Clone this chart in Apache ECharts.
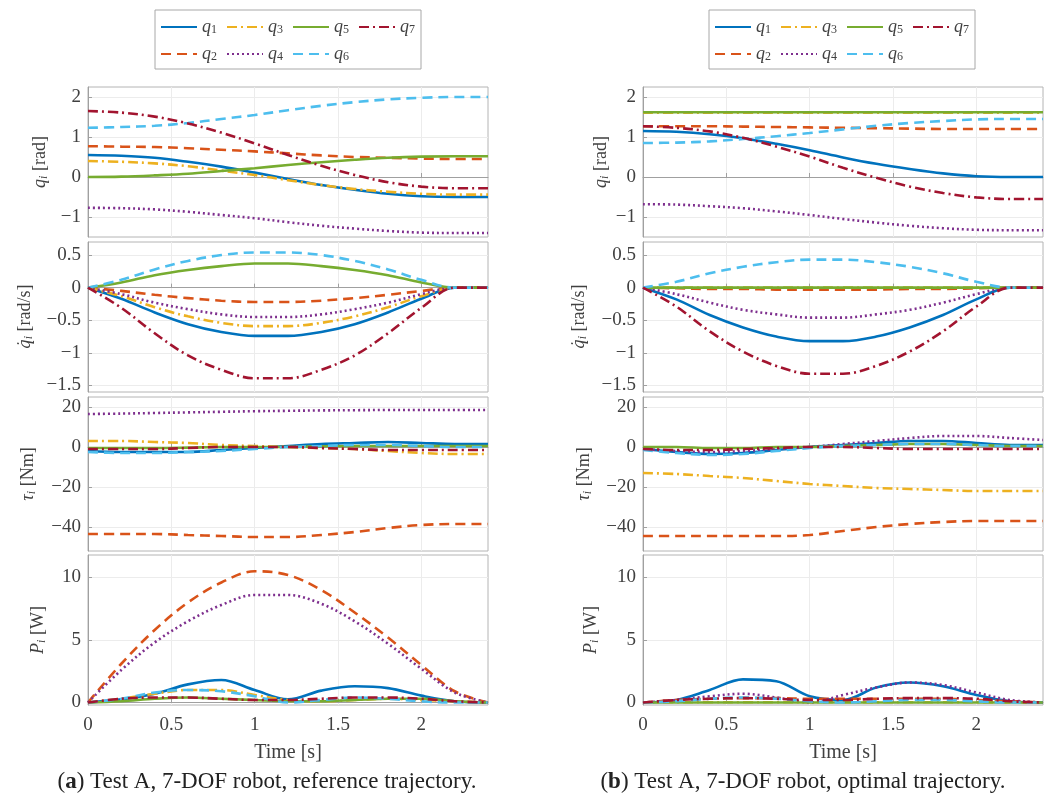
<!DOCTYPE html>
<html>
<head>
    <meta charset="utf-8">
    <script src="https://cdn.jsdelivr.net/npm/echarts@6/dist/echarts.min.js"></script>
    <style>
        html, body { margin: 0; background: #fff; }
        #main { width: 1052px; height: 808px; }
    </style>
</head>
<body>
<div id="main"></div>
<script type="text/javascript">
    // time axis [s]
    var time = [0, 0.2, 0.4, 0.6, 0.8, 1.0, 1.2, 1.4, 1.6, 1.8, 2.0, 2.2, 2.4];
    var names = ['q1', 'q2', 'q3', 'q4', 'q5', 'q6', 'q7'];

    // (a) reference trajectory, rows q1..q7
    var posA = [
        [0.55, 0.53, 0.48, 0.38, 0.26, 0.11, -0.05, -0.2, -0.32, -0.42, -0.48, -0.5, -0.5],
        [0.77, 0.76, 0.75, 0.72, 0.68, 0.64, 0.59, 0.54, 0.5, 0.48, 0.46, 0.45, 0.45],
        [0.4, 0.38, 0.34, 0.27, 0.16, 0.05, -0.08, -0.2, -0.3, -0.37, -0.42, -0.44, -0.44],
        [-0.77, -0.78, -0.81, -0.87, -0.95, -1.03, -1.13, -1.22, -1.29, -1.35, -1.39, -1.4, -1.4],
        [0, 0.01, 0.04, 0.08, 0.15, 0.22, 0.3, 0.37, 0.43, 0.48, 0.51, 0.52, 0.52],
        [1.23, 1.25, 1.28, 1.35, 1.45, 1.55, 1.67, 1.78, 1.87, 1.94, 1.98, 2.0, 2.0],
        [1.65, 1.61, 1.51, 1.34, 1.11, 0.84, 0.55, 0.28, 0.05, -0.13, -0.24, -0.28, -0.28]
    ];
    var velA = [
        [0, -0.17, -0.38, -0.56, -0.68, -0.74, -0.74, -0.68, -0.56, -0.38, -0.17, 0, 0],
        [0, -0.05, -0.11, -0.16, -0.2, -0.22, -0.22, -0.2, -0.16, -0.11, -0.05, 0, 0],
        [0, -0.13, -0.3, -0.44, -0.54, -0.59, -0.59, -0.54, -0.44, -0.3, -0.13, 0, 0],
        [0, -0.1, -0.23, -0.33, -0.41, -0.45, -0.45, -0.41, -0.33, -0.23, -0.1, 0, 0],
        [0, 0.08, 0.19, 0.27, 0.33, 0.37, 0.37, 0.33, 0.27, 0.19, 0.08, 0, 0],
        [0, 0.12, 0.28, 0.41, 0.5, 0.54, 0.54, 0.5, 0.41, 0.28, 0.12, 0, 0],
        [0, -0.31, -0.7, -1.04, -1.26, -1.39, -1.39, -1.26, -1.04, -0.7, -0.31, 0, 0]
    ];
    var torA = [
        [-2, -2.5, -2.5, -2.5, -1.5, -0.5, 0.5, 1.5, 2, 2.5, 2, 1.5, 1.5],
        [-43.5, -43.5, -43.5, -44, -44.5, -45, -45, -44, -42.5, -40.5, -39, -38.5, -38.5],
        [3, 3, 2.5, 2, 1, 0.5, 0, -0.5, -1, -2, -3, -3.5, -3.5],
        [16.5, 16.7, 17, 17.3, 17.6, 17.9, 18.1, 18.3, 18.4, 18.5, 18.5, 18.5, 18.5],
        [-0.5, -0.5, -0.5, -0.3, 0, 0, 0, 0.3, 0.5, 0.5, 0.5, 0.5, 0.5],
        [-2.5, -3, -3, -2.5, -2, -1, 0, 0.5, 1, 1, 0.5, 0, 0],
        [-1, -1, -1, -0.5, 0, 0, 0, -0.5, -1, -1.5, -1.5, -1.5, -1.5]
    ];
    var powA = [
        [0, 0.25, 0.7, 1.45, 1.8, 1.0, 0.25, 0.95, 1.3, 1.15, 0.55, 0.1, 0],
        [0, 3.1, 5.8, 8.0, 9.6, 10.5, 10.2, 9.0, 7.2, 5.2, 3.0, 0.9, 0],
        [0, 0.3, 0.7, 1.0, 1.0, 0.6, 0.2, 0.1, 0.2, 0.3, 0.2, 0.1, 0],
        [0, 2.6, 4.8, 6.5, 7.8, 8.6, 8.6, 7.9, 6.5, 4.7, 2.7, 0.8, 0],
        [0, 0.1, 0.3, 0.4, 0.3, 0.2, 0.1, 0.1, 0.2, 0.3, 0.3, 0.1, 0],
        [0, 0.3, 0.8, 1.0, 0.9, 0.5, 0, 0.2, 0.4, 0.3, 0.1, 0, 0],
        [0, 0.3, 0.4, 0.4, 0.3, 0.2, 0.2, 0.3, 0.4, 0.4, 0.3, 0.1, 0]
    ];

    // (b) optimal trajectory
    var posB = [
        [1.15, 1.13, 1.07, 0.97, 0.83, 0.67, 0.49, 0.33, 0.2, 0.09, 0.02, 0, 0],
        [1.27, 1.27, 1.27, 1.26, 1.25, 1.24, 1.23, 1.22, 1.21, 1.2, 1.2, 1.2, 1.2],
        [1.61, 1.61, 1.61, 1.61, 1.61, 1.61, 1.61, 1.61, 1.61, 1.61, 1.61, 1.61, 1.61],
        [-0.68, -0.69, -0.73, -0.78, -0.86, -0.95, -1.05, -1.14, -1.22, -1.28, -1.32, -1.33, -1.33],
        [1.62, 1.62, 1.62, 1.62, 1.62, 1.62, 1.62, 1.62, 1.62, 1.62, 1.62, 1.62, 1.62],
        [0.85, 0.86, 0.89, 0.95, 1.02, 1.1, 1.19, 1.28, 1.35, 1.4, 1.44, 1.45, 1.45],
        [1.27, 1.23, 1.14, 0.98, 0.76, 0.51, 0.23, -0.02, -0.24, -0.4, -0.51, -0.55, -0.55]
    ];
    var velB = [
        [0, -0.18, -0.42, -0.61, -0.75, -0.82, -0.82, -0.75, -0.61, -0.42, -0.18, 0, 0],
        [0, -0.01, -0.02, -0.02, -0.03, -0.03, -0.03, -0.03, -0.02, -0.02, -0.01, 0, 0],
        [0, 0, 0, 0, 0, 0, 0, 0, 0, 0, 0, 0, 0],
        [0, -0.1, -0.23, -0.34, -0.41, -0.46, -0.46, -0.41, -0.34, -0.23, -0.1, 0, 0],
        [0, 0, 0, 0, 0, 0, 0, 0, 0, 0, 0, 0, 0],
        [0, 0.09, 0.22, 0.32, 0.39, 0.43, 0.43, 0.39, 0.32, 0.22, 0.09, 0, 0],
        [0, -0.29, -0.67, -0.98, -1.2, -1.32, -1.32, -1.2, -0.98, -0.67, -0.29, 0, 0]
    ];
    var torB = [
        [-1, -2.5, -3.5, -3, -1.5, 0, 1, 2, 3, 3, 2, 1, 1],
        [-44.5, -44.5, -44.5, -44.5, -44.5, -44, -42, -40, -38.5, -37.5, -37, -37, -37],
        [-13, -13.5, -14.5, -15.5, -17, -18.5, -19.5, -20.5, -21, -21.5, -22, -22, -22],
        [-1, -2, -2.5, -2, -1, 0, 1.5, 3, 4.5, 5.5, 5.5, 4.5, 3.5],
        [0, 0, -0.5, -0.5, 0, 0, 0.5, 1, 1.5, 1.5, 1, 0.5, 0.5],
        [-1.5, -3, -4, -3.5, -2, -0.5, 0.5, 1, 1.5, 1.5, 1, 0.5, 0.5],
        [-1, -1.5, -1.5, -1, -0.5, 0, 0, -0.5, -1, -1, -1, -1, -1]
    ];
    var powB = [
        [0, 0.2, 1.0, 1.85, 1.7, 0.5, 0.2, 1.2, 1.6, 1.3, 0.6, 0.1, 0],
        [0, 0.2, 0.3, 0.35, 0.35, 0.3, 0.3, 0.3, 0.3, 0.3, 0.2, 0.1, 0],
        [0, 0.02, 0.02, 0.02, 0.02, 0.02, 0.02, 0.02, 0.02, 0.02, 0.02, 0, 0],
        [0, 0.2, 0.5, 0.7, 0.4, 0, 0.6, 1.2, 1.6, 1.4, 0.8, 0.2, 0],
        [0, 0, 0, 0, 0, 0, 0, 0, 0, 0, 0, 0, 0],
        [0, 0.1, 0.3, 0.4, 0.3, 0.1, 0, 0.1, 0.2, 0.2, 0.1, 0, 0],
        [0, 0.2, 0.3, 0.35, 0.3, 0.2, 0.2, 0.3, 0.35, 0.35, 0.3, 0.1, 0]
    ];

    // tick labels
    var xTicks = [0, 0.5, 1, 1.5, 2];
    var yTicks = [[-1, 0, 1, 2], [-1.5, -1, -0.5, 0, 0.5], [-40, -20, 0, 20], [0, 5, 10]];

    var colors = ['#0072BD', '#D95319', '#EDB120', '#7E2F8E', '#77AC30', '#4DBEEE', '#A2142F'];
    var dashes = ['solid', [10, 6], [10, 4, 2, 4], [2, 3], 'solid', [10, 6], [10, 4, 2, 4]];

    var panels = [[posA, velA, torA, powA], [posB, velB, torB, powB]];
    var plotLeft = [88, 643];
    var rowTop = [87, 242, 397, 555];
    var rowHeight = [150, 150, 154, 150];
    var yMin = [-1.5, -1.6, -52, -0.2];
    var yMax = [2.25, 0.7, 25, 11.8];
    var yNames = ['{i|q}{s|i} [rad]', '{d|q\u0307}{s|i} [rad/s]', '{i|\u03c4}{s|i} [Nm]', '{i|P}{s|i} [W]'];
    var yNameGap = [[38, 53, 50, 40], [32, 54, 49, 42]];

    var serif = 'Liberation Serif';
    var txtColor = '#404040';
    var richSub = {
        i: {fontFamily: serif, fontStyle: 'italic', fontSize: 18, color: txtColor},
        d: {fontFamily: 'DejaVu Serif', fontStyle: 'italic', fontSize: 16, color: txtColor},
        s: {fontFamily: serif, fontStyle: 'italic', fontSize: 12, color: txtColor, padding: [7, 0, 0, 0]}
    };

    function fmt(v) {
        return (v < 0 ? '\u2212' : '') + Math.abs(v);
    }

    var grids = [], xAxes = [], yAxes = [], series = [];
    for (var p = 0; p < 2; p++) {
        for (var r = 0; r < 4; r++) {
            var idx = p * 4 + r;
            grids.push({
                left: plotLeft[p], width: 400, top: rowTop[r], height: rowHeight[r],
                show: true, borderColor: '#b4b4b4', borderWidth: 1, backgroundColor: '#fff'
            });
            xAxes.push({
                type: 'value', gridIndex: idx, min: 0, max: 2.4,
                name: r === 3 ? 'Time [s]' : '',
                nameLocation: 'middle', nameGap: 38,
                nameTextStyle: {fontFamily: serif, fontSize: 20, color: txtColor},
                axisLine: {show: true, lineStyle: {color: '#a0a0a0'}},
                axisTick: {show: true, inside: true, length: 4, customValues: xTicks, lineStyle: {color: '#a0a0a0'}},
                axisLabel: {show: r === 3, customValues: xTicks, formatter: fmt, margin: 11,
                    fontFamily: serif, fontSize: 19, color: txtColor},
                splitLine: {show: true, lineStyle: {color: '#ececec'}}
            });
            yAxes.push({
                type: 'value', gridIndex: idx, min: yMin[r], max: yMax[r],
                name: yNames[r], nameLocation: 'middle', nameRotate: 90, nameGap: yNameGap[p][r],
                nameTextStyle: {fontFamily: serif, fontSize: 18, color: txtColor, rich: richSub},
                axisLine: {show: true, lineStyle: {color: '#a0a0a0'}},
                axisTick: {show: true, inside: true, length: 4, customValues: yTicks[r], lineStyle: {color: '#a0a0a0'}},
                axisLabel: {customValues: yTicks[r], formatter: fmt, margin: 7,
                    fontFamily: serif, fontSize: 19, color: txtColor},
                splitLine: {show: true, lineStyle: {color: '#ececec'}}
            });
            var block = panels[p][r];
            for (var j = 0; j < 7; j++) {
                var pts = [];
                for (var k = 0; k < time.length; k++) {
                    pts.push([time[k], block[j][k]]);
                }
                series.push({
                    type: 'line', name: names[j],
                    xAxisIndex: idx, yAxisIndex: idx,
                    data: pts, smooth: 0.35, symbol: 'none',
                    lineStyle: {color: colors[j], width: 2.6, type: dashes[j]},
                    itemStyle: {color: colors[j]}
                });
            }
        }
    }

    function legendAt(left) {
        return {
            left: left, top: 10, width: 290,
            orient: 'horizontal',
            data: ['q1', 'q3', 'q5', 'q7', 'q2', 'q4', 'q6'],
            itemWidth: 36, itemHeight: 14, itemGap: 9,
            padding: [8, 6, 6, 5],
            borderColor: '#a8a8a8', borderWidth: 1, borderRadius: 0,
            selectedMode: false,
            itemStyle: {opacity: 0},
            formatter: function (n) { return '{i|q}{s|' + n.slice(1) + '}'; },
            textStyle: {rich: {
                i: {fontFamily: serif, fontStyle: 'italic', fontSize: 18, lineHeight: 16, color: txtColor},
                s: {fontFamily: serif, fontSize: 12, lineHeight: 12, color: txtColor, padding: [6, 0, 0, 0]}
            }}
        };
    }

    var capRich = {
        b: {fontFamily: serif, fontWeight: 'bold', fontSize: 23, fill: '#222'}
    };

    var option = {
        animation: false,
        backgroundColor: '#fff',
        grid: grids,
        xAxis: xAxes,
        yAxis: yAxes,
        legend: [legendAt(155), legendAt(709)],
        graphic: [
            {type: 'text', x: 267, y: 782, style: {
                text: '({b|a}) Test A, 7-DOF robot, reference trajectory.',
                font: '23px "Liberation Serif"', fill: '#222', align: 'center', verticalAlign: 'middle', rich: capRich}},
            {type: 'text', x: 803, y: 782, style: {
                text: '({b|b}) Test A, 7-DOF robot, optimal trajectory.',
                font: '23px "Liberation Serif"', fill: '#222', align: 'center', verticalAlign: 'middle', rich: capRich}}
        ],
        series: series
    };

    var myChart = echarts.init(document.getElementById('main'));
    myChart.setOption(option);
</script>
</body>
</html>
